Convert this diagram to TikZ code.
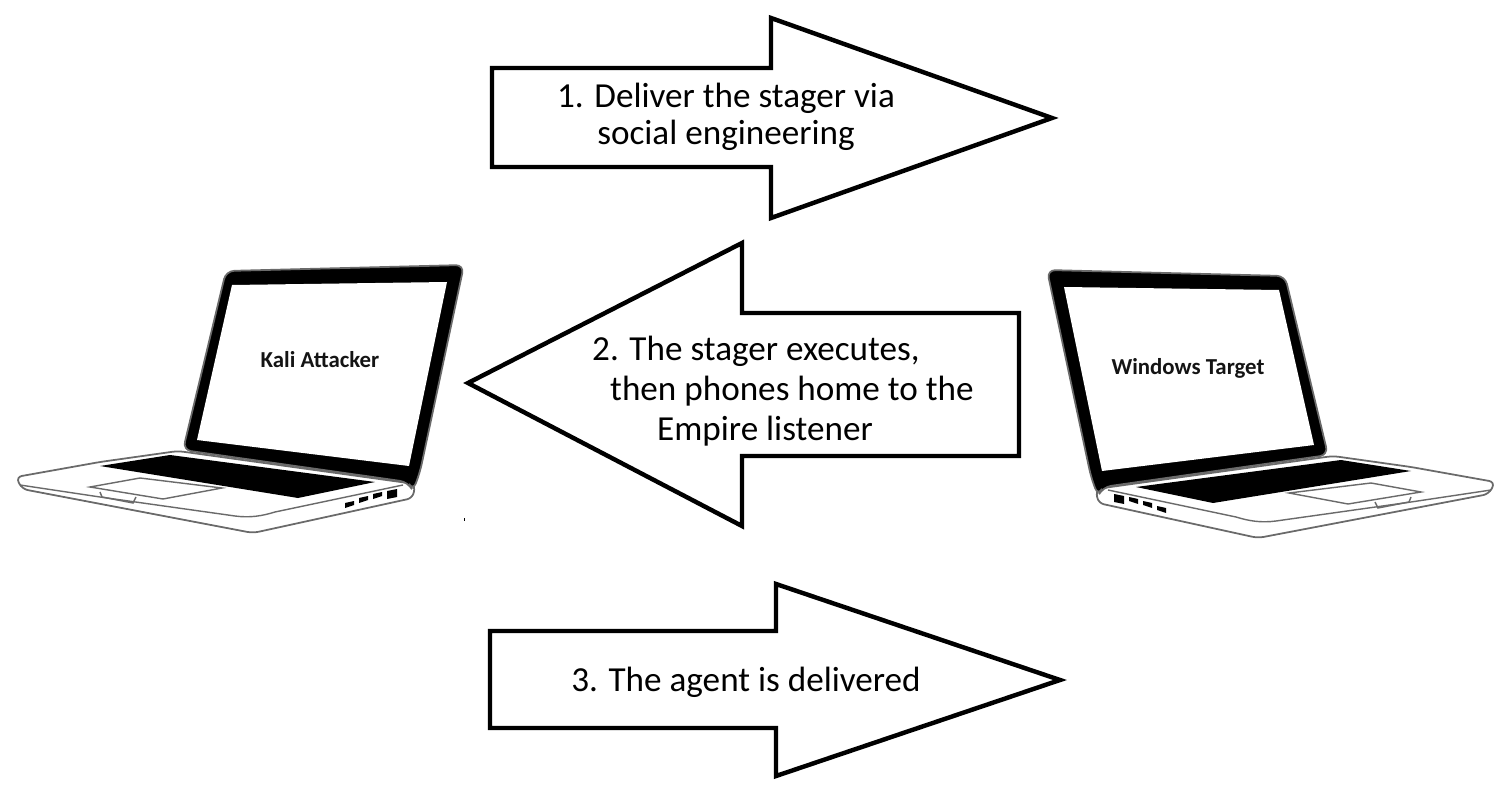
\documentclass[tikz,border=0pt]{standalone}
\usepackage{fontspec}
\setmainfont{Carlito}
\usepackage{tikz}
\definecolor{EdgeGray}{HTML}{6A6A6A}
\definecolor{TextDark}{HTML}{141414}
\tikzset{
  laptop/.pic={
    % base
    \draw[EdgeGray,fill=white,line width=1.5pt,rounded corners=5pt]
      (16,477)--(100,462)--(178,451)--(415,484)--(413,498)--(253,533)
      --(22,489)--cycle;
    \draw[EdgeGray,line width=1.2pt] (20,485)--(100,497)--(235,516)
      .. controls (250,518) and (262,516) .. (275,512)--(403,485);
    % lid
    \draw[EdgeGray,fill=black,line width=1.5pt,rounded corners=7pt]
      (183,450)--(226,271)--(464,265)--(420,472)--(413,491)--(408,482)--cycle;
    \fill[white] (232,285)--(447,282)--(409,466)--(197,440)--cycle;
    % keyboard
    \fill[black] (100,466)--(170,455)--(375,482)--(298,498)--cycle;
    % trackpad
    \draw[EdgeGray,line width=1.2pt,fill=white]
      (90,487)--(140,478)--(222,488)--(163,499)--cycle;
    \draw[EdgeGray,line width=1.2pt] (100,492)--(102,497)--(133,503)--(136,497);
    % ports
    \foreach \px/\py in {345/503,359/498,373/494}
      \fill[black] (\px,\py)--(\px+9,\py-2)--(\px+9,\py+2)--(\px,\py+5)--cycle;
    \fill[black] (387,491)--(397,489)--(397,497)--(387,499)--cycle;
  },
  blockarrow/.style={draw=black,fill=white,line width=3.8pt,miter limit=10},
  arrowtext/.style={font=\fontsize{30}{34}\selectfont,text=black,inner sep=0pt},
  screentext/.style={font=\fontsize{19.5}{22}\selectfont\bfseries,text=TextDark,inner sep=0pt}
}
\begin{document}
\begin{tikzpicture}[x=0.03cm,y=-0.03cm]
  \useasboundingbox (0,0) rectangle (1511,796);

  \pic at (0,0) {laptop};
  \pic[xscale=-1] at (1511,5) {laptop};
  \fill[black] (464,518) rectangle (465,521);

  \node[screentext] (kali) at (320,360) {Kali Attacker};
  \node[screentext] (windows) at (1188,368) {Windows Target};

  \draw[blockarrow] (492,68)--(771,68)--(771,18)--(1052,118)--(771,218)--(771,167)--(492,167)--cycle;
  \draw[blockarrow] (1019,313)--(742,313)--(742,243)--(468,383)--(742,526)--(742,456)--(1019,456)--cycle;
  \draw[blockarrow] (490,631)--(776,631)--(776,584)--(1060,680)--(776,776)--(776,728)--(490,728)--cycle;

  \node[arrowtext,align=center,font=\fontsize{30}{31.5}\selectfont] (deliver) at (726,117) {1. Deliver the stager via\\social engineering};
  \node[arrowtext,align=left,anchor=north west] (phones) at (592,336)
    {2. The stager executes,\\\hspace*{0.54cm}then phones home to the\\\hspace*{1.95cm}Empire listener};
  \node[arrowtext] (agent) at (746,682) {3. The agent is delivered};
\end{tikzpicture}
\end{document}
